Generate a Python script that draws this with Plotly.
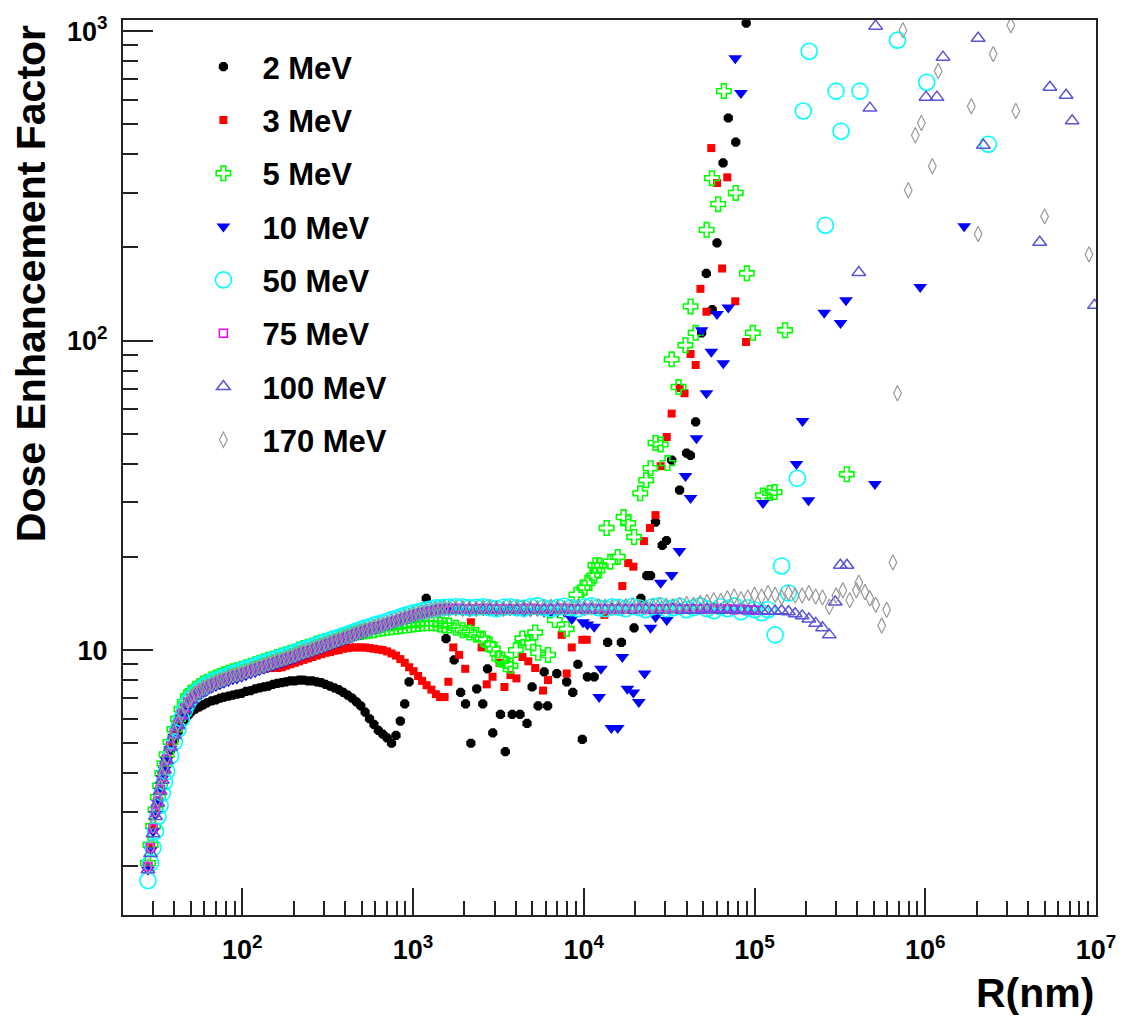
import plotly.graph_objects as go

# ---------------- data (R in nm, dose enhancement factor) ----------------
R_LOW = [28, 29, 30, 31, 32, 33, 34, 35, 36, 38,
         40, 42, 44, 46, 48, 50, 53, 56, 59, 62,
         66, 70, 74, 78, 83, 88, 93, 99, 105, 112,
         119, 126, 134, 142, 151, 160, 170, 180, 191, 203,
         215, 228, 242, 257, 273, 290, 307, 326, 346, 367,
         390, 414, 439, 466, 494, 524, 556, 590, 626, 664,
         705, 748, 794, 842, 894, 948, 1006, 1070, 1130, 1200,
         1280, 1360, 1440, 1530]

R_PLAT = [1620, 1780, 1950, 2140, 2340, 2570, 2810, 3080, 3380, 3700,
          4060, 4450, 4870, 5340, 5850, 6410, 7030, 7700, 8440, 9250,
          10100, 11100, 12200, 13300, 14600, 16000, 17600, 19300, 21100, 23100,
          25300, 27800, 30400, 33300, 36500, 40000, 43900, 48100, 52700, 57700,
          63300, 69300, 76000, 83300, 91300, 100000, 110000, 120000, 132000, 144000,
          158000, 173000, 190000, 208000, 228000, 250000, 274000, 300000, 329000, 361000,
          395000]

# 2 MeV
DEF_2_LOW = [2.0, 2.3, 2.65, 3.0, 3.25, 3.55, 3.85, 4.1, 4.35, 4.75,
             5.15, 5.45, 5.75, 5.95, 6.15, 6.3, 6.45, 6.55, 6.65, 6.75,
             6.85, 6.9, 7.0, 7.05, 7.1, 7.15, 7.2, 7.25, 7.35, 7.4,
             7.5, 7.55, 7.6, 7.65, 7.75, 7.8, 7.85, 7.9, 7.95, 7.95,
             8.0, 8.0, 7.95, 7.95, 7.9, 7.85, 7.75, 7.65, 7.55, 7.45,
             7.3, 7.15, 7.0, 6.8, 6.6, 6.3, 6.0, 5.75, 5.5, 5.35,
             5.2, 5.0, 5.3, 5.9, 6.7, 7.9]
R_2_TAIL = [1195, 1560, 1740, 1900, 2030, 2180, 2360, 2560, 2730, 2930,
            3250, 3470, 3810, 4230, 4650, 4980, 5400, 5860, 6140, 6950,
            7940, 8620, 9230, 9800, 10500, 11500, 13800, 16600, 19700, 21600,
            23400, 24600, 26300, 28800, 30500, 32700, 36400, 40000, 42100, 45200,
            49000, 52200, 56500, 60300, 65400, 70200, 77600, 89400]
DEF_2_TAIL = [14.7, 10.9, 9.3, 7.3, 6.7, 5.0, 7.5, 6.7, 8.7, 5.4,
              6.2, 4.7, 6.2, 6.2, 5.8, 7.6, 6.6, 8.5, 6.6, 8.4,
              7.9, 7.3, 9.0, 5.15, 8.2, 8.2, 10.6, 10.6, 11.8, 14.7,
              17.4, 17.4, 25.9, 21.8, 22.6, 41.1, 32.9, 43.3, 42.6, 54.6,
              106, 165, 126, 207, 375, 524, 438, 1062]

# 3 MeV
DEF_3_LOW = [2.0, 2.3, 2.65, 3.0, 3.25, 3.55, 3.9, 4.15, 4.45, 4.9,
             5.35, 5.75, 6.15, 6.45, 6.75, 6.95, 7.15, 7.3, 7.45, 7.55,
             7.7, 7.8, 7.9, 8.0, 8.1, 8.2, 8.25, 8.35, 8.45, 8.5,
             8.6, 8.65, 8.7, 8.75, 8.75, 8.75, 8.8, 8.9, 9.0, 9.1,
             9.2, 9.3, 9.4, 9.5, 9.6, 9.7, 9.8, 9.85, 9.95, 10.0,
             10.1, 10.15, 10.2, 10.2, 10.2, 10.2, 10.15, 10.1, 10.05, 10.0,
             9.9, 9.75, 9.6, 9.35, 9.1, 8.8, 8.55, 8.25, 7.95, 7.7,
             7.45, 7.2, 7.05, 7.05]
R_3_TAIL = [1610, 1720, 1860, 2020, 2180, 2520, 2700, 2920, 3210, 3430,
            3720, 4030, 4370, 4730, 5190, 5770, 6170, 7420, 7940, 8500,
            9800, 10400, 13200, 16800, 18200, 19500, 22500, 24400, 26300, 28200,
            30600, 32700, 36400, 38900, 42200, 45200, 48200, 52300, 55800, 60300,
            64600, 69200, 77100, 89200]
DEF_3_TAIL = [7.9, 10.2, 9.65, 8.7, 12.3, 10.2, 7.75, 8.2, 9.1, 7.6,
              8.3, 8.1, 9.5, 9.2, 8.75, 7.4, 8.0, 11.2, 8.4, 10.2,
              10.8, 10.8, 13.0, 16.1, 19.1, 18.6, 22.5, 24.8, 27.3, 39.3,
              48.8, 58.1, 70.3, 67.6, 90.5, 83.4, 147, 124, 419, 323,
              171, 337, 134, 99]

# 5 MeV
DEF_5_LOW = [2.05, 2.35, 2.7, 3.05, 3.35, 3.65, 4.0, 4.3, 4.6, 5.05,
             5.55, 6.0, 6.45, 6.8, 7.1, 7.3, 7.5, 7.65, 7.8, 7.9,
             8.05, 8.15, 8.25, 8.35, 8.45, 8.55, 8.6, 8.7, 8.8, 8.9,
             9.0, 9.1, 9.2, 9.3, 9.4, 9.5, 9.6, 9.7, 9.8, 9.9,
             10.05, 10.15, 10.25, 10.35, 10.5, 10.6, 10.7, 10.8, 10.9, 11.0,
             11.1, 11.2, 11.3, 11.4, 11.45, 11.5, 11.55, 11.6, 11.7, 11.75,
             11.8, 11.85, 11.9, 11.95, 12.0, 12.05, 12.1, 12.15, 12.2, 12.2,
             12.2, 12.2, 12.1, 12.0]
R_5_TAIL = [1620, 1780, 1950, 2140, 2340, 2560, 2810, 2930, 3200, 3340,
            3500, 3720, 4000, 4370, 4730, 5190, 5400, 6170, 6770, 7940,
            9060, 10100, 10500, 11500, 11700, 12000, 12300, 13600, 14300, 15800,
            17100, 18200, 19700, 21400, 23200, 24600, 26300, 28200, 30900, 32700,
            35900, 39400, 42200, 45200, 52400, 56300, 61200, 66100, 77600, 90200,
            97700, 112000, 123000, 131000, 151000, 347000]
DEF_5_TAIL = [12.0, 11.8, 11.6, 11.4, 11.2, 10.9, 10.4, 10.1, 9.4, 9.3,
              9.0, 8.9, 10.0, 10.9, 10.6, 11.4, 9.8, 9.65, 12.5, 11.7,
              15.1, 15.9, 16.5, 17.4, 18.8, 18.1, 18.8, 24.8, 19.3, 20.0,
              26.9, 25.7, 23.2, 32.1, 35.4, 38.7, 46.7, 46.2, 40.2, 87,
              70.8, 96.6, 129, 106, 228, 335, 276, 640, 300, 165,
              106, 31.6, 32.2, 32.4, 108, 37]

# 10 MeV
DEF_10_LOW = [1.95, 2.25, 2.6, 2.95, 3.2, 3.5, 3.85, 4.1, 4.4, 4.8,
              5.25, 5.65, 6.05, 6.35, 6.6, 6.8, 7.0, 7.15, 7.3, 7.4,
              7.55, 7.65, 7.75, 7.85, 7.95, 8.05, 8.1, 8.2, 8.3, 8.4,
              8.5, 8.6, 8.7, 8.8, 8.9, 9.0, 9.1, 9.2, 9.3, 9.4,
              9.55, 9.65, 9.75, 9.85, 10.0, 10.1, 10.25, 10.35, 10.5, 10.6,
              10.75, 10.85, 11.0, 11.15, 11.25, 11.4, 11.5, 11.65, 11.75, 11.85,
              12.0, 12.15, 12.25, 12.4, 12.55, 12.65, 12.8, 12.9, 13.0, 13.1,
              13.2, 13.3, 13.35, 13.4]
DEF_10_PLAT = [13.4, 13.45, 13.4, 13.35, 13.4, 13.45, 13.4, 13.35, 13.4, 13.45,
               13.4, 13.3, 13.35, 13.4, 13.3, 13.25, 13.35, 13.3]
R_10_TAIL = [8500, 9900, 10500, 11500, 12300, 12600, 14500, 15800, 16800, 18000,
             19500, 21000, 22700, 24600, 26300, 28200, 30600, 32700, 36300, 39400,
             42200, 45700, 49000, 52300, 55800, 60300, 65600, 70200, 77100, 83200,
             112000, 176000, 191000, 207000, 256000, 319000, 343000, 507000, 934000, 1690000]
DEF_10_TAIL = [12.6, 12.3, 12.1, 11.9, 7.05, 8.7, 5.6, 5.6, 9.5, 7.5,
               7.3, 6.8, 8.4, 11.8, 12.8, 16.5, 12.5, 17.5, 20.9, 36.5,
               31.0, 48.4, 108, 67.6, 92, 122, 84.5, 128, 818, 631,
               29.9, 39.9, 55, 30.5, 123, 114, 135, 34.4, 149, 234]

# 50 MeV
DEF_50_LOW = [1.8, 2.05, 2.3, 2.6, 2.9, 3.15, 3.45, 3.75, 4.05, 4.55,
              5.05, 5.55, 6.0, 6.4, 6.75, 7.0, 7.25, 7.45, 7.6, 7.75,
              7.9, 8.0, 8.1, 8.2, 8.3, 8.4, 8.5, 8.6, 8.7, 8.8,
              8.9, 9.0, 9.1, 9.2, 9.3, 9.4, 9.5, 9.6, 9.7, 9.8,
              9.95, 10.05, 10.15, 10.25, 10.4, 10.5, 10.65, 10.75, 10.9, 11.0,
              11.15, 11.25, 11.4, 11.55, 11.65, 11.8, 11.9, 12.05, 12.15, 12.25,
              12.4, 12.55, 12.65, 12.8, 12.95, 13.05, 13.2, 13.3, 13.4, 13.5,
              13.6, 13.7, 13.7, 13.75]
DEF_50_PLAT = [13.75, 13.8, 13.8, 13.7, 13.75, 13.8, 13.7, 13.6, 13.75, 13.8,
               13.7, 13.65, 13.8, 13.9, 13.7, 13.6, 13.75, 13.85, 13.7, 13.6,
               13.8, 13.9, 13.7, 13.6, 13.8, 13.75, 13.6, 13.85, 13.7, 13.5,
               13.8, 13.9, 13.6, 13.7, 13.85, 13.5, 13.7, 13.9, 13.6, 13.4,
               13.8, 13.6, 13.9, 13.3, 13.7, 13.5, 13.2, 13.5, 11.2, 18.7,
               15.3]
R_50_TAIL = [178000, 193000, 209000, 260000, 300000, 321000, 414000, 687000, 1020000, 2340000]
DEF_50_TAIL = [35.9, 552, 861, 236, 640, 475, 640, 935, 684, 431]

# 75 MeV
DEF_75_LOW = [2.0, 2.3, 2.65, 3.0, 3.25, 3.55, 3.9, 4.15, 4.45, 4.9,
              5.35, 5.75, 6.2, 6.5, 6.8, 7.0, 7.2, 7.35, 7.5, 7.6,
              7.75, 7.85, 7.95, 8.05, 8.15, 8.25, 8.3, 8.4, 8.5, 8.6,
              8.7, 8.8, 8.9, 9.0, 9.1, 9.2, 9.3, 9.4, 9.5, 9.6,
              9.75, 9.85, 9.95, 10.05, 10.2, 10.3, 10.45, 10.55, 10.7, 10.8,
              10.95, 11.05, 11.2, 11.35, 11.45, 11.6, 11.7, 11.85, 11.95, 12.05,
              12.2, 12.35, 12.45, 12.6, 12.75, 12.85, 13.0, 13.1, 13.2, 13.3,
              13.4, 13.5, 13.55, 13.6]
DEF_75_PLAT = [13.6, 13.65, 13.6, 13.55, 13.6, 13.65, 13.6, 13.55, 13.6, 13.6,
               13.55, 13.6, 13.65, 13.6, 13.55, 13.6, 13.6, 13.65, 13.6, 13.55,
               13.6, 13.65, 13.6, 13.55, 13.6, 13.6, 13.55, 13.6, 13.65, 13.6,
               13.55, 13.6, 13.6, 13.65, 13.55, 13.6, 13.6, 13.55, 13.6, 13.6,
               13.55, 13.6, 13.5, 13.55, 13.5, 13.45]

# 100 MeV
DEF_100_LOW = [1.95, 2.2, 2.55, 2.9, 3.2, 3.5, 3.8, 4.1, 4.4, 4.85,
               5.3, 5.7, 6.1, 6.4, 6.7, 6.9, 7.1, 7.25, 7.4, 7.5,
               7.65, 7.75, 7.85, 7.95, 8.05, 8.15, 8.2, 8.3, 8.4, 8.5,
               8.6, 8.7, 8.8, 8.9, 9.0, 9.1, 9.2, 9.3, 9.4, 9.5,
               9.65, 9.75, 9.85, 9.95, 10.1, 10.2, 10.35, 10.45, 10.6, 10.7,
               10.85, 10.95, 11.1, 11.25, 11.35, 11.5, 11.6, 11.75, 11.85, 11.95,
               12.1, 12.25, 12.35, 12.5, 12.65, 12.75, 12.9, 13.0, 13.1, 13.2,
               13.3, 13.4, 13.45, 13.5]
DEF_100_PLAT = [13.5, 13.45, 13.5, 13.55, 13.5, 13.45, 13.5, 13.55, 13.5, 13.45,
                13.5, 13.55, 13.5, 13.45, 13.5, 13.5, 13.55, 13.5, 13.45, 13.5,
                13.55, 13.5, 13.45, 13.5, 13.5, 13.55, 13.5, 13.45, 13.5, 13.55,
                13.5, 13.45, 13.5, 13.55, 13.5, 13.45, 13.5, 13.5, 13.55, 13.5,
                13.45, 13.5, 13.5, 13.45, 13.4, 13.45, 13.4, 13.35, 13.35, 13.4,
                13.3, 13.1, 12.9, 12.6, 12.2, 11.8, 11.2]
R_100_TAIL = [297000, 318000, 348000, 408000, 474000, 512000, 1010000, 1170000,
              1270000, 2040000, 2190000, 4680000, 5370000, 6680000, 7250000, 9800000]
DEF_100_TAIL = [14.3, 18.8, 18.8, 166, 564, 1038, 612, 612,
                824, 948, 428, 208, 659, 621, 513, 130]

# 170 MeV
DEF_170_LOW = [2.0, 2.3, 2.7, 3.05, 3.3, 3.6, 3.95, 4.2, 4.5, 4.95,
               5.4, 5.8, 6.25, 6.55, 6.85, 7.05, 7.25, 7.4, 7.55, 7.65,
               7.8, 7.9, 8.0, 8.1, 8.2, 8.3, 8.35, 8.45, 8.55, 8.65,
               8.75, 8.85, 8.95, 9.05, 9.15, 9.25, 9.35, 9.45, 9.55, 9.65,
               9.8, 9.9, 10.0, 10.1, 10.25, 10.35, 10.5, 10.6, 10.75, 10.85,
               11.0, 11.1, 11.25, 11.4, 11.5, 11.65, 11.75, 11.9, 12.0, 12.1,
               12.25, 12.4, 12.5, 12.65, 12.8, 12.9, 13.05, 13.15, 13.25, 13.35,
               13.45, 13.55, 13.6, 13.65]
DEF_170_PLAT = [13.6, 13.65, 13.7, 13.65, 13.6, 13.7, 13.75, 13.65, 13.6, 13.7,
                13.75, 13.7, 13.6, 13.65, 13.75, 13.8, 13.7, 13.65, 13.75, 13.8,
                13.7, 13.75, 13.85, 13.8, 13.7, 13.75, 13.85, 13.9, 13.8, 13.75,
                13.9, 14.0, 13.9, 13.85, 14.0, 14.1, 14.0, 14.2, 14.3, 14.5,
                14.4, 14.7, 14.9, 14.6, 14.8, 15.1, 14.9, 15.3, 15.1, 14.8,
                15.3, 15.0, 15.0, 15.3, 14.9, 14.8, 13.8, 15.0, 15.6, 14.5,
                15.6]
R_170_TAIL = [408000, 443000, 473000, 513000, 556000, 594000, 646000, 687000,
              740000, 795000, 874000, 949000, 1100000, 1190000, 1860000, 2040000,
              2500000, 3170000, 3390000, 5000000, 9100000]
DEF_170_TAIL = [16.5, 15.4, 14.7, 14.0, 12.0, 13.5, 19.2, 67.6,
                1007, 306, 461, 505, 366, 743, 572, 221,
                843, 1045, 552, 252, 190]

X_TICKS = [1e2, 1e3, 1e4, 1e5, 1e6, 1e7]
X_TICKTEXT = ["10<sup>2</sup>", "10<sup>3</sup>", "10<sup>4</sup>",
              "10<sup>5</sup>", "10<sup>6</sup>", "10<sup>7</sup>"]
Y_TICKS = [10, 100, 1000]
Y_TICKTEXT = ["10", "10<sup>2</sup>", "10<sup>3</sup>"]


def join(parts):
    xs, ys = [], []
    for r, d in parts:
        n = min(len(r), len(d))
        xs += list(r[:n])
        ys += list(d[:n])
    return xs, ys


SERIES = [
    ("2 MeV", [(R_LOW, DEF_2_LOW), (R_2_TAIL, DEF_2_TAIL)],
     dict(symbol="octagon", color="#000000", size=10, line=dict(width=0))),
    ("3 MeV", [(R_LOW, DEF_3_LOW), (R_3_TAIL, DEF_3_TAIL)],
     dict(symbol="square", color="#ff0000", size=8, line=dict(width=0))),
    ("5 MeV", [(R_LOW, DEF_5_LOW), (R_5_TAIL, DEF_5_TAIL)],
     dict(symbol="cross-open", color="#00ff00", size=12, line=dict(width=1.6, color="#00ff00"))),
    ("10 MeV", [(R_LOW, DEF_10_LOW), (R_PLAT, DEF_10_PLAT), (R_10_TAIL, DEF_10_TAIL)],
     dict(symbol="triangle-down", color="#0000ff", size=12, line=dict(width=0))),
    ("50 MeV", [(R_LOW, DEF_50_LOW), (R_PLAT, DEF_50_PLAT), (R_50_TAIL, DEF_50_TAIL)],
     dict(symbol="circle-open", color="#00ffff", size=16, line=dict(width=1.6, color="#00ffff"))),
    ("75 MeV", [(R_LOW, DEF_75_LOW), (R_PLAT, DEF_75_PLAT)],
     dict(symbol="square-open", color="#ff00ff", size=8, line=dict(width=1.5, color="#ff00ff"))),
    ("100 MeV", [(R_LOW, DEF_100_LOW), (R_PLAT, DEF_100_PLAT), (R_100_TAIL, DEF_100_TAIL)],
     dict(symbol="triangle-up-open", color="#5954d8", size=12, line=dict(width=1.5, color="#5954d8"))),
    ("170 MeV", [(R_LOW, DEF_170_LOW), (R_PLAT, DEF_170_PLAT), (R_170_TAIL, DEF_170_TAIL)],
     dict(symbol="diamond-tall-open", color="#999999", size=11, line=dict(width=1.2, color="#999999"))),
]

FONT = "Liberation Sans, Arial, Helvetica, sans-serif"

fig = go.Figure()
for i, (name, parts, mk) in enumerate(SERIES):
    xs, ys = join(parts)
    fig.add_trace(go.Scatter(x=xs, y=ys, mode="markers", name=name,
                             legendgroup="g%d" % i, marker=mk))

x_minor = [m * 10 ** e for e in range(1, 7) for m in range(2, 10) if m * 10 ** e >= 20]
y_minor = [m * 10 ** e for e in range(0, 3) for m in range(2, 10)]

fig.update_layout(
    width=1128, height=1018,
    margin=dict(l=123, r=22, t=20, b=103),
    paper_bgcolor="white", plot_bgcolor="white",
    font=dict(family=FONT, color="black"),
    showlegend=True,
    legend=dict(x=0.0631, y=0.9776, xanchor="left", yanchor="top",
                font=dict(family=FONT, size=31, weight="bold", color="black"),
                bgcolor="rgba(0,0,0,0)", tracegroupgap=10, itemwidth=68,
                traceorder="grouped"),
    xaxis=dict(type="log", range=[1.30103, 7.0], showgrid=False, zeroline=False,
               showline=True, linecolor="#222222", linewidth=2, mirror=True,
               ticks="inside", ticklen=27, tickwidth=2, tickcolor="#222222",
               tickvals=X_TICKS, ticktext=X_TICKTEXT, ticklabelstandoff=10,
               ticklabeloverflow="allow",
               tickfont=dict(family=FONT, size=27, weight="bold", color="black"),
               minor=dict(tickvals=x_minor, ticks="inside", ticklen=14,
                          tickwidth=2, tickcolor="#222222")),
    yaxis=dict(type="log", range=[0.144, 3.036], showgrid=False, zeroline=False,
               showline=True, linecolor="#222222", linewidth=2, mirror=True,
               ticks="inside", ticklen=30, tickwidth=2, tickcolor="#222222",
               tickvals=Y_TICKS, ticktext=Y_TICKTEXT, ticklabelstandoff=8,
               ticklabeloverflow="allow",
               tickfont=dict(family=FONT, size=27, weight="bold", color="black"),
               minor=dict(tickvals=y_minor, ticks="inside", ticklen=15,
                          tickwidth=2, tickcolor="#222222")),
    annotations=[
        dict(text="<b>Dose Enhancement Factor</b>", textangle=-90,
             xref="paper", yref="paper", x=-0.0946, y=0.997,
             xanchor="center", yanchor="top", showarrow=False,
             font=dict(family=FONT, size=41, color="black")),
        dict(text="<b>R(nm)</b>", xref="paper", yref="paper", x=1.0, y=-0.087,
             xanchor="right", yanchor="middle", showarrow=False,
             font=dict(family=FONT, size=41, color="black")),
    ],
)

fig.write_html("out.html")
